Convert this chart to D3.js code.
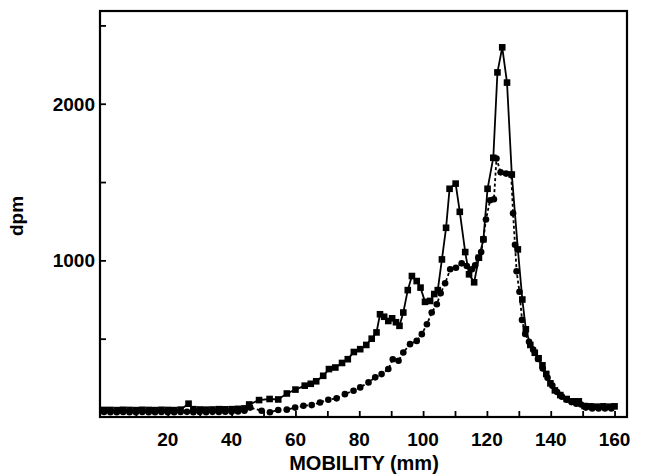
<!DOCTYPE html>
<html>
<head>
<meta charset="utf-8">
<script src="https://cdn.jsdelivr.net/npm/d3@7"></script>
<style>
  html, body { margin: 0; padding: 0; background: #fff; }
  svg { display: block; }
  text { font-family: "Liberation Sans", Arial, Helvetica, sans-serif; font-weight: bold; fill: #000; }
</style>
</head>
<body>
<svg id="chart" width="645" height="476"></svg>
<script>
// Fraction profile: solid line with squares
const squareMobility = [0, 2, 4, 6, 8, 10, 12, 14, 16, 18, 20, 22, 24, 26.5, 28, 30, 32, 34, 36, 38, 40, 42, 44, 45.5,
  48.6, 51.9, 54.6, 57.3, 60, 62.9, 64.8, 66.5, 68.7, 70.5, 72.5, 74.6, 76.4, 78.3, 80.3, 82.2, 83.9, 85.4,
  86.5, 87.8, 89.1, 90.3, 91.5, 92.6, 93.8, 95.2, 96.5, 98, 99.2, 100.6, 102.2, 103.5, 104.6, 105.9, 107.2,
  108.3, 110.2, 111.5, 113.2, 114.4, 116, 117.5, 118.9, 120.2, 122, 123.3, 124.8, 126.3, 127.8, 129.7,
  131.1, 132.2, 133.6, 135, 136.2, 137.4, 138.6, 139.9, 141.3, 143, 145, 147, 148.8, 150.6, 152.5, 154.5,
  156.5, 158.5, 160];
const squareDpm = [45, 45, 44, 46, 45, 44, 46, 45, 44, 46, 45, 44, 47, 85, 50, 48, 47, 48, 50, 49, 50, 52, 55, 80,
  108, 115, 112, 150, 175, 200, 212, 228, 263, 306, 316, 345, 369, 415, 433, 460, 500, 540,
  656, 640, 613, 630, 605, 582, 667, 810, 900, 868, 826, 735, 741, 785, 810, 1006, 1208,
  1457, 1490, 1310, 1053, 911, 860, 1017, 1134, 1457, 1655, 2200, 2360, 2135, 1548, 1070,
  750, 560, 460, 410, 375, 330, 275, 215, 170, 140, 115, 100, 100, 70, 68, 66,
  68, 66, 68];

// Fraction profile: dashed line with circles
const circleMobility = [0, 2, 4, 6, 8, 10, 12, 14, 16, 18, 20, 22, 24, 26, 28, 30, 32, 34, 36, 38, 40, 42, 44,
  45.8, 49.4, 52, 54.6, 57.3, 59.9, 62.5, 65.1, 67.7, 70.3, 72.9, 75.5, 78.2, 80.3, 82.9, 85, 87, 89.1,
  90.5, 92.3, 93.8, 95.9, 98, 99.6, 101.2, 102.7, 104.3, 105.5, 106.9, 108.5, 110.3, 112.1, 113.7,
  115.3, 116.3, 117.3, 118.2, 118.9, 119.7, 121, 122.2, 123, 124.3, 126, 127.6, 128.2, 128.8, 129.3,
  130.2, 131, 132, 133.2, 134.5, 136, 137.5, 139, 140.5, 142, 143.5, 145, 146.5, 148, 149.5, 151,
  153, 155, 157, 159];
const circleDpm = [32, 31, 30, 32, 31, 30, 32, 31, 30, 32, 31, 30, 32, 33, 31, 32, 31, 33, 32, 34, 33, 35, 40,
  60, 40, 30, 45, 47, 60, 72, 76, 93, 110, 119, 146, 168, 189, 221, 253, 274, 306,
  369, 359, 412, 465, 486, 529, 592, 667, 720, 790, 854, 943, 953, 981, 964,
  943, 968, 1017, 1053, 1134, 1261, 1384, 1390, 1650, 1562, 1554, 1548, 1300, 1100, 930,
  800, 620, 530, 480, 430, 370, 310, 250, 200, 160, 130, 110, 95, 85, 80, 60,
  55, 55, 55, 55];

// Axis ticks
const xTickLabels = [20, 40, 60, 80, 100, 120, 140, 160];
const xMinorTicks = [10, 20, 30, 40, 50, 60, 70, 80, 90, 100, 110, 120, 130, 140, 150, 160];
const yTickLabels = [1000, 2000];
const yMinorTicks = [500, 1000, 1500, 2000, 2500];

const svg = d3.select("#chart");
const plotLeft = 100, plotRight = 627, plotTop = 11, plotBottom = 417;

const x = d3.scaleLinear().domain([-1.25, 163.9]).range([plotLeft, plotRight]);
const y = d3.scaleLinear().domain([0, 2592]).range([plotBottom, plotTop]);

const squares = squareMobility.map((m, i) => ({ m, v: squareDpm[i] }));
const circles = circleMobility.map((m, i) => ({ m, v: circleDpm[i] }));

const line = d3.line().x(d => x(d.m)).y(d => y(d.v));

// Dashed profile
svg.append("path")
  .datum(circles)
  .attr("d", line)
  .attr("fill", "none")
  .attr("stroke", "#000")
  .attr("stroke-width", 1.8)
  .attr("stroke-dasharray", "3,2.5");

svg.selectAll("circle.pt")
  .data(circles)
  .enter().append("circle")
  .attr("class", "pt")
  .attr("cx", d => x(d.m))
  .attr("cy", d => y(d.v))
  .attr("r", 3.3)
  .attr("fill", "#000");

// Solid profile
svg.append("path")
  .datum(squares)
  .attr("d", line)
  .attr("fill", "none")
  .attr("stroke", "#000")
  .attr("stroke-width", 1.8);

const sq = 6.6;
svg.selectAll("rect.pt")
  .data(squares)
  .enter().append("rect")
  .attr("class", "pt")
  .attr("x", d => x(d.m) - sq / 2)
  .attr("y", d => y(d.v) - sq / 2)
  .attr("width", sq)
  .attr("height", sq)
  .attr("fill", "#000");

// Frame
svg.append("rect")
  .attr("x", plotLeft).attr("y", plotTop)
  .attr("width", plotRight - plotLeft).attr("height", plotBottom - plotTop)
  .attr("fill", "none").attr("stroke", "#000").attr("stroke-width", 2.2);

// Bottom axis: inward ticks
const xAxis = d3.axisBottom(x).tickValues(xMinorTicks).tickSize(-6).tickFormat("");
const gx = svg.append("g").attr("transform", `translate(0,${plotBottom})`).call(xAxis);
gx.select(".domain").remove();
gx.selectAll(".tick line").attr("stroke", "#000").attr("stroke-width", 1.8);

svg.selectAll("text.xlab")
  .data(xTickLabels)
  .enter().append("text")
  .attr("class", "xlab")
  .attr("x", d => x(d))
  .attr("y", 446)
  .attr("text-anchor", "middle")
  .attr("font-size", 19)
  .text(d => d);

// Left axis: inward ticks
const yAxis = d3.axisLeft(y).tickValues(yMinorTicks).tickSize(-6).tickFormat("");
const gy = svg.append("g").attr("transform", `translate(${plotLeft},0)`).call(yAxis);
gy.select(".domain").remove();
gy.selectAll(".tick line").attr("stroke", "#000").attr("stroke-width", 1.8);

svg.selectAll("text.ylab")
  .data(yTickLabels)
  .enter().append("text")
  .attr("class", "ylab")
  .attr("x", 95)
  .attr("y", d => y(d) + 7)
  .attr("text-anchor", "end")
  .attr("font-size", 19)
  .text(d => d);

// Axis titles
svg.append("text")
  .attr("x", 364)
  .attr("y", 470)
  .attr("text-anchor", "middle")
  .attr("font-size", 20)
  .text("MOBILITY (mm)");

svg.append("text")
  .attr("transform", "translate(23,216) rotate(-90)")
  .attr("text-anchor", "middle")
  .attr("font-size", 19)
  .text("dpm");
</script>
</body>
</html>
